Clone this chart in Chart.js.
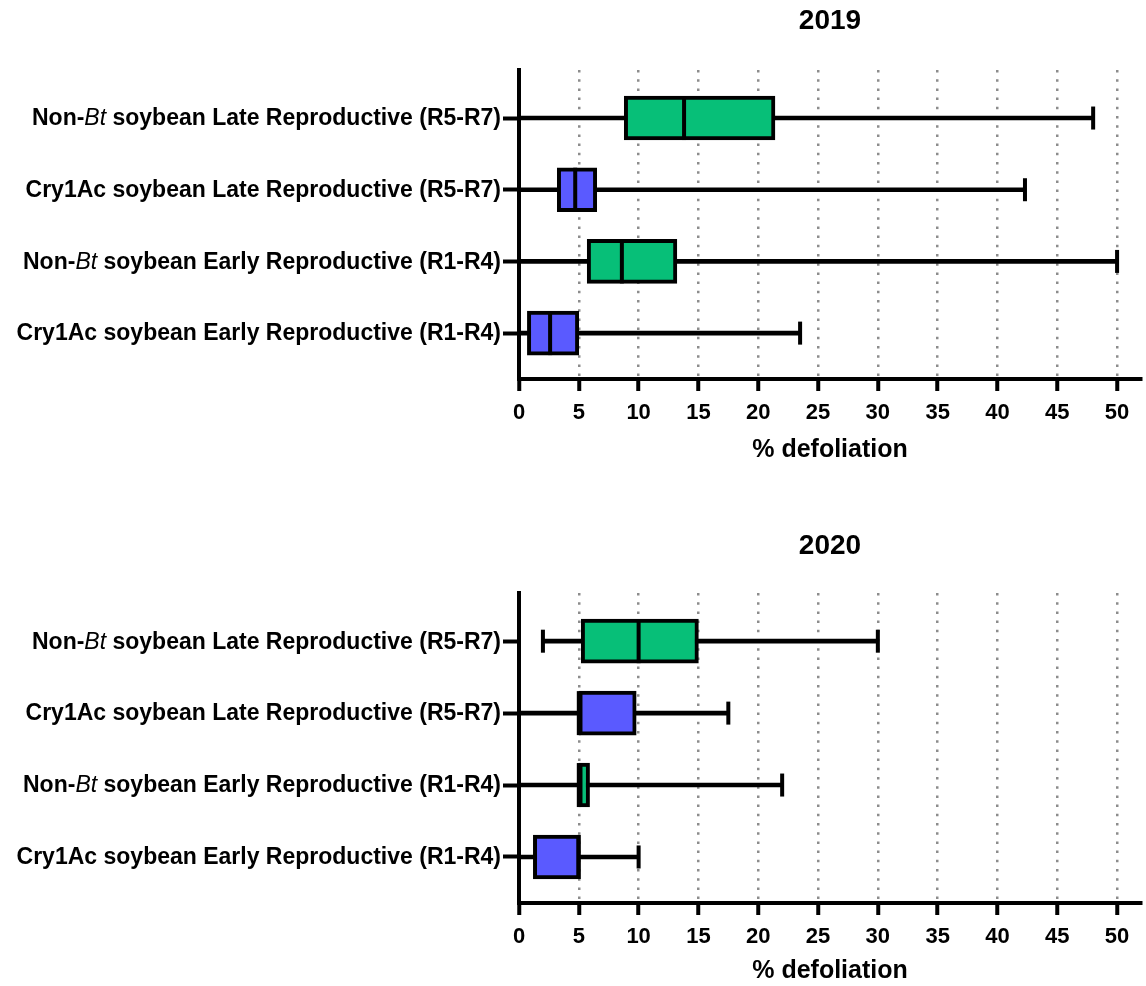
<!DOCTYPE html>
<html>
<head>
<meta charset="utf-8">
<script src="https://cdn.jsdelivr.net/npm/chart.js@4.4.0/dist/chart.umd.min.js"></script>
<style>
  body { margin: 0; background: #fff; overflow: hidden; }
  #top { position: absolute; left: 0; top: 0; width: 1146px; height: 490px; }
  #bottom { position: absolute; left: 0; top: 490px; width: 1146px; height: 496px; }
</style>
</head>
<body>
<div id="top"><canvas id="c2019"></canvas></div>
<div id="bottom"><canvas id="c2020"></canvas></div>
<script>
// groups, top to bottom
const groups = [
  "Non-Bt soybean Late Reproductive (R5-R7)",
  "Cry1Ac soybean Late Reproductive (R5-R7)",
  "Non-Bt soybean Early Reproductive (R1-R4)",
  "Cry1Ac soybean Early Reproductive (R1-R4)"
];
const positions = [4, 3, 2, 1];
const xTicks = [0, 5, 10, 15, 20, 25, 30, 35, 40, 45, 50];

// 2019 (% defoliation)
const min2019 = [0, 0, 0, 0];
const q1_2019 = [8.8, 3.2, 5.7, 0.7];
const med2019 = [13.8, 4.7, 8.6, 2.6];
const q3_2019 = [21.4, 6.5, 13.2, 5.0];
const max2019 = [48, 42.3, 50, 23.5];

// 2020 (% defoliation)
const min2020 = [2, 0, 0, 0];
const q1_2020 = [5.2, 5.0, 5.0, 1.2];
const med2020 = [10, 5.0, 5.0, 5.0];
const q3_2020 = [15, 9.8, 5.9, 5.1];
const max2020 = [30, 17.5, 22, 10];

const GREEN = '#07BF78';
const BLUE = '#5A5AFF';
const fills = [GREEN, BLUE, GREEN, BLUE];
const BOX = 44;
const CAP = 23;
const FAMILY = "'Liberation Sans', Arial, sans-serif";

Chart.defaults.font.family = FAMILY;
Chart.defaults.color = '#000';

// caps, medians and the y labels (with italic "Bt")
const boxExtras = {
  id: 'boxExtras',
  afterDatasetsDraw(chart, args, opts) {
    const { ctx, scales: { x, y } } = chart;
    ctx.save();
    ctx.fillStyle = '#000';
    opts.min.forEach((mn, i) => {
      const yc = y.getPixelForValue(positions[i]);
      [mn, opts.max[i]].forEach(v => {
        const px = x.getPixelForValue(v);
        ctx.fillRect(px - 2, yc - CAP / 2, 4, CAP);
      });
      const pm = x.getPixelForValue(opts.median[i]);
      ctx.fillRect(pm - 2, yc - BOX / 2, 4, BOX);
    });
    ctx.restore();
  },
  afterDraw(chart) {
    const { ctx, chartArea, scales: { y } } = chart;
    const bold = "bold 23px " + FAMILY;
    const ital = "italic 23px " + FAMILY;
    ctx.save();
    ctx.fillStyle = '#000';
    ctx.textBaseline = 'middle';
    ctx.textAlign = 'left';
    groups.forEach((label, i) => {
      const parts = [];
      const k = label.indexOf('Bt');
      if (k >= 0) {
        parts.push([label.slice(0, k), bold], ['Bt', ital], [label.slice(k + 2), bold]);
      } else {
        parts.push([label, bold]);
      }
      let w = 0;
      parts.forEach(p => { ctx.font = p[1]; w += ctx.measureText(p[0]).width; });
      let xp = chartArea.left - 18 - w;
      const yc = y.getPixelForValue(positions[i]) + 1;
      parts.forEach(p => {
        ctx.font = p[1];
        ctx.fillText(p[0], xp, yc);
        xp += ctx.measureText(p[0]).width;
      });
    });
    ctx.restore();
  }
};

function makeChart(id, year, mn, q1, med, q3, mx, lay) {
  return new Chart(document.getElementById(id), {
    type: 'bar',
    data: {
      datasets: [
        {
          data: positions.map((p, i) => ({ y: p, x: [mn[i], mx[i]] })),
          backgroundColor: '#000',
          borderWidth: 0,
          barThickness: 4,
          grouped: false,
          order: 2
        },
        {
          data: positions.map((p, i) => ({ y: p, x: [q1[i], q3[i]] })),
          backgroundColor: fills,
          borderColor: '#000',
          borderWidth: 4,
          borderSkipped: false,
          barThickness: BOX,
          grouped: false,
          order: 1
        }
      ]
    },
    options: {
      responsive: true,
      maintainAspectRatio: false,
      animation: false,
      indexAxis: 'y',
      layout: { padding: { right: 5 } },
      plugins: {
        legend: { display: false },
        tooltip: { enabled: false },
        title: {
          display: true,
          text: year,
          fullSize: false,
          color: '#000',
          font: { size: 28, weight: 'bold' },
          padding: { top: lay.titleTop, bottom: lay.titleBottom }
        },
        boxExtras: { min: mn, median: med, max: mx }
      },
      scales: {
        x: {
          type: 'linear',
          min: 0,
          max: 52,
          afterBuildTicks: s => { s.ticks = xTicks.map(v => ({ value: v })); },
          afterFit: s => { s.height = lay.xHeight; },
          ticks: { font: { size: 22, weight: 'bold' }, color: '#000', padding: 9 },
          grid: { color: '#8c8c8c', lineWidth: 2.5, tickColor: '#000', tickWidth: 4, tickLength: 12 },
          border: { color: '#000', width: 4, dash: [2.5, 6.7] },
          title: {
            display: true,
            text: '% defoliation',
            color: '#000',
            font: { size: 25, weight: 'bold' },
            padding: { top: 0, bottom: lay.xTitleBottom }
          }
        },
        y: {
          type: 'linear',
          min: 0.36,
          max: 4.67,
          offset: false,
          afterBuildTicks: s => { s.ticks = positions.map(v => ({ value: v })); },
          afterFit: s => { s.width = 519; },
          ticks: { display: false },
          grid: { offset: false, drawOnChartArea: false, tickColor: '#000', tickWidth: 4, tickLength: 16 },
          border: { color: '#000', width: 4 }
        }
      }
    },
    plugins: [boxExtras]
  });
}

makeChart('c2019', '2019', min2019, q1_2019, med2019, q3_2019, max2019,
  { titleTop: 4.2, titleBottom: 32.2, xHeight: 111, xTitleBottom: 25 });
makeChart('c2020', '2020', min2020, q1_2020, med2020, q3_2020, max2020,
  { titleTop: 39.2, titleBottom: 30.2, xHeight: 83, xTitleBottom: 0 });
</script>
</body>
</html>
